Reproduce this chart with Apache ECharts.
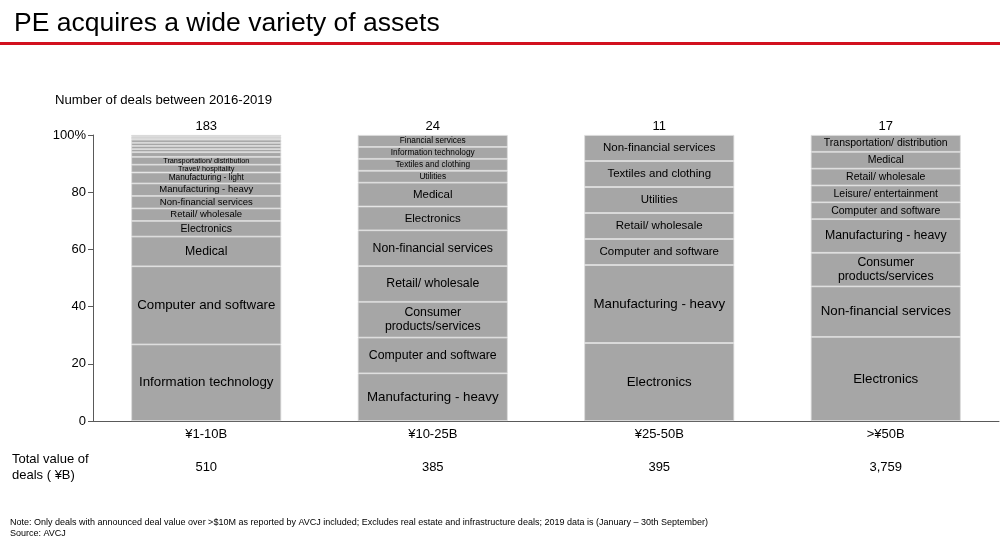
<!DOCTYPE html>
<html>
<head>
<meta charset="utf-8">
<script src="https://cdn.jsdelivr.net/npm/echarts@6/dist/echarts.min.js"></script>
<style>
html,body{margin:0;padding:0;background:#fff;}
#chart{width:1000px;height:543px;}
</style>
</head>
<body>
<div id="chart"></div>
<script>
// ---- data ----
const sizeBands = ['¥1-10B', '¥10-25B', '¥25-50B', '>¥50B'];
const dealCounts = [183, 24, 11, 17];
const totalValues = ['510', '385', '395', '3,759'];
const yTicks = [0, 20, 40, 60, 80, 100];

// sectors listed bottom to top for each bar, with number of deals
const band1Sectors = ['Information technology', 'Computer and software', 'Medical', 'Electronics',
  'Retail/ wholesale', 'Non-financial services', 'Manufacturing - heavy', 'Manufacturing - light',
  'Travel/ hospitality', 'Transportation/ distribution', 'Consumer products/services',
  'Leisure/ entertainment', 'Utilities', 'Textiles and clothing', 'Financial services',
  'Media', 'Agriculture', 'Other'];
const band1Deals = [49, 50, 19, 10, 8, 8, 8, 7, 5, 5, 3, 2, 2, 2, 2, 1, 1, 1];

const band2Sectors = ['Manufacturing - heavy', 'Computer and software', 'Consumer products/services',
  'Retail/ wholesale', 'Non-financial services', 'Electronics', 'Medical', 'Utilities',
  'Textiles and clothing', 'Information technology', 'Financial services'];
const band2Deals = [4, 3, 3, 3, 3, 2, 2, 1, 1, 1, 1];

const band3Sectors = ['Electronics', 'Manufacturing - heavy', 'Computer and software',
  'Retail/ wholesale', 'Utilities', 'Textiles and clothing', 'Non-financial services'];
const band3Deals = [3, 3, 1, 1, 1, 1, 1];

const band4Sectors = ['Electronics', 'Non-financial services', 'Consumer products/services',
  'Manufacturing - heavy', 'Computer and software', 'Leisure/ entertainment', 'Retail/ wholesale',
  'Medical', 'Transportation/ distribution'];
const band4Deals = [5, 3, 2, 2, 1, 1, 1, 1, 1];

const sectorsByBand = [band1Sectors, band2Sectors, band3Sectors, band4Sectors];
const dealsByBand = [band1Deals, band2Deals, band3Deals, band4Deals];

// ---- chart ----
const FONT = '"Liberation Sans", Arial, Helvetica, sans-serif';
const PX_PER_PCT = 2.86;

function labelStyle(pct) {
  const h = pct * PX_PER_PCT;
  let fs;
  if (h >= 40) fs = 13.3;
  else if (h >= 28) fs = 12.3;
  else if (h >= 22) fs = 11.5;
  else if (h >= 14) fs = 10.5;
  else if (h >= 12.2) fs = 9.5;
  else if (h >= 10.5) fs = 8.3;
  else fs = 7.3;
  return { show: h >= 7, fontSize: fs, lineHeight: fs + 2 };
}

const layerCount = Math.max(...dealsByBand.map(a => a.length));
const series = [];
for (let i = 0; i < layerCount; i++) {
  series.push({
    type: 'bar',
    stack: 'all',
    barWidth: 150,
    xAxisIndex: 0,
    itemStyle: { color: '#a6a6a6', borderColor: '#dcdcdc', borderWidth: 0.8 },
    label: {
      position: 'inside',
      color: '#000',
      fontFamily: FONT,
      formatter: p => p.data.sector === 'Consumer products/services' ? 'Consumer\nproducts/services' : p.data.sector
    },
    emphasis: { disabled: true },
    data: sizeBands.map((b, j) => {
      const deals = dealsByBand[j];
      if (i >= deals.length) return '-';
      const total = deals.reduce((s, v) => s + v, 0);
      const pct = deals[i] / total * 100;
      return { value: pct, sector: sectorsByBand[j][i], label: labelStyle(pct) };
    })
  });
}

const chart = echarts.init(document.getElementById('chart'));
chart.setOption({
  animation: false,
  textStyle: { fontFamily: FONT },
  grid: { left: 93, right: 1, top: 135, bottom: 122 },
  xAxis: [
    {
      type: 'category', data: sizeBands, position: 'bottom',
      axisLine: { lineStyle: { color: '#595959', width: 1 } },
      axisTick: { show: false },
      axisLabel: { color: '#000', fontSize: 13, margin: 7, fontFamily: FONT }
    },
    {
      type: 'category', data: dealCounts.map(String), position: 'top',
      axisLine: { show: false }, axisTick: { show: false },
      axisLabel: { color: '#000', fontSize: 13, margin: 2, fontFamily: FONT }
    },
    {
      type: 'category', data: totalValues, position: 'bottom', offset: 33,
      axisLine: { show: false }, axisTick: { show: false },
      axisLabel: { color: '#000', fontSize: 13, margin: 7, fontFamily: FONT }
    }
  ],
  yAxis: {
    type: 'value', min: yTicks[0], max: yTicks[yTicks.length - 1], interval: 20,
    axisLine: { show: true, lineStyle: { color: '#595959', width: 1 } },
    axisTick: { show: true, length: 5, lineStyle: { color: '#595959' } },
    splitLine: { show: false },
    axisLabel: {
      color: '#000', fontSize: 13, margin: 7, fontFamily: FONT,
      formatter: v => v === 100 ? '100%' : String(v)
    }
  },
  series: series,
  graphic: [
    { type: 'text', left: 14, top: 10, style: { text: 'PE acquires a wide variety of assets', fontSize: 26.5, fill: '#000', fontFamily: FONT } },
    { type: 'rect', left: 0, top: 42, shape: { width: 1000, height: 3 }, style: { fill: '#d2101e' } },
    { type: 'text', left: 55, top: 94, style: { text: 'Number of deals between 2016-2019', fontSize: 13.2, fill: '#000', fontFamily: FONT } },
    { type: 'text', left: 12, top: 451, style: { text: 'Total value of\ndeals ( ¥B)', fontSize: 13, lineHeight: 16, fill: '#000', fontFamily: FONT } },
    { type: 'text', left: 10, top: 517, style: { text: 'Note: Only deals with announced deal value over >$10M as reported by AVCJ included; Excludes real estate and infrastructure deals; 2019 data is (January \u2013 30th September)\nSource: AVCJ', fontSize: 9, lineHeight: 11, fill: '#000', fontFamily: '"Liberation Sans Narrow", "Arial Narrow", ' + FONT } }
  ]
});
</script>
</body>
</html>
